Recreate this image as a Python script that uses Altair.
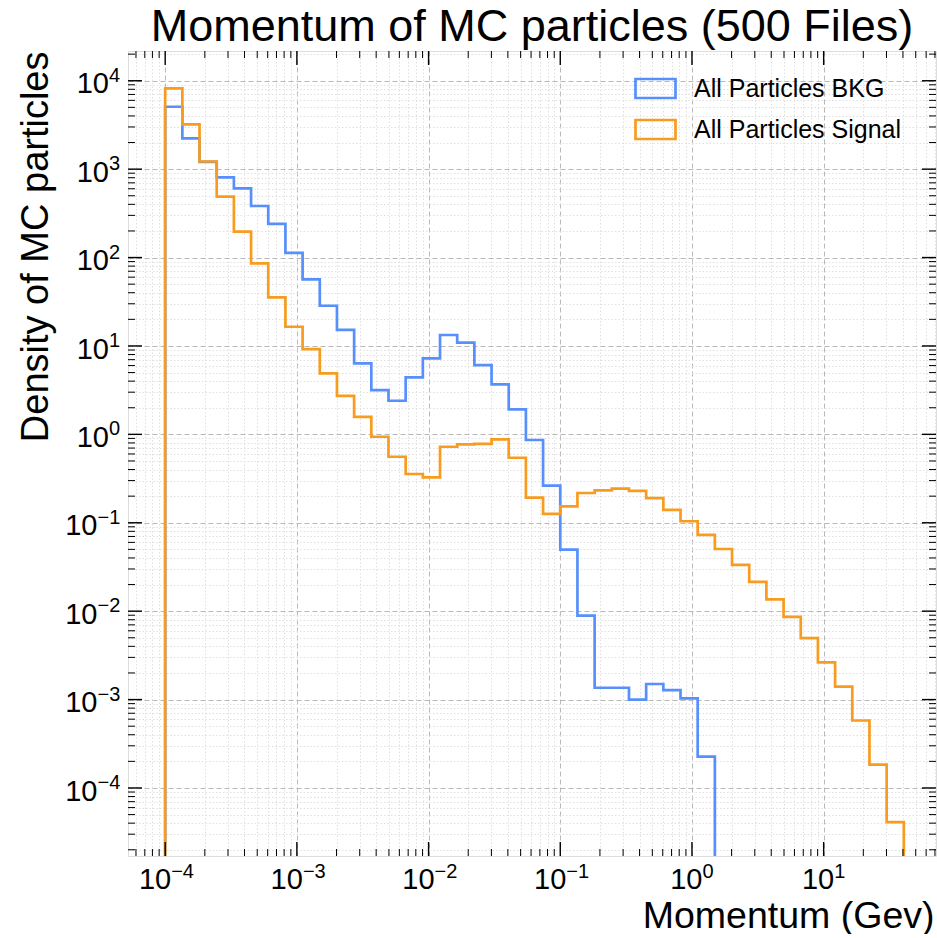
import altair as alt
import pandas as pd

# ---------------- data ----------------
EDGES = [1.0e-4, 1.3503e-4, 1.8233e-4, 2.4621e-4, 3.3246e-4, 4.4892e-4, 6.0619e-4, 8.1855e-4,
         1.10529e-3, 1.49250e-3, 2.01534e-3, 2.72134e-3, 3.67466e-3, 4.96195e-3, 6.70019e-3,
         9.04735e-3, 1.22168e-2, 1.64965e-2, 2.22754e-2, 3.00788e-2, 4.06159e-2, 5.48442e-2,
         7.40568e-2, 0.1, 0.135031, 0.182335, 0.246209, 0.332460, 0.448925, 0.606190, 0.818547,
         1.10529, 1.49250, 2.01534, 2.72134, 3.67466, 4.96195, 6.70019, 9.04735, 12.2168,
         16.4965, 22.2754, 30.0788, 40.6159]

BKG = [5080, 2230, 1210, 807, 607, 383, 240, 113, 56.6, 28.5, 15.2, 6.35, 3.17, 2.40, 4.40,
       7.24, 13.3, 10.9, 6.08, 3.68, 1.92, 0.863, 0.263, 0.0496, 0.0089, 0.00136, 0.00136,
       0.00100, 0.00150, 0.00128, 0.00103, 0.000226]

SIGNAL = [8200, 3210, 1220, 488, 196, 86, 35.5, 16.5, 9.2, 4.90, 2.73, 1.58, 0.94, 0.558,
          0.356, 0.326, 0.724, 0.771, 0.78, 0.877, 0.544, 0.192, 0.126, 0.153, 0.217, 0.233,
          0.243, 0.229, 0.190, 0.140, 0.104, 0.0728, 0.0505, 0.0334, 0.0214, 0.0136, 0.0086,
          0.00496, 0.00264, 0.0014, 0.00058, 0.000184, 0.000041]

SERIES = ["All Particles BKG", "All Particles Signal"]
COLORS = ["#5790fc", "#f89c20"]

X_MAJOR = [1e-4, 1e-3, 1e-2, 1e-1, 1e0, 1e1]
X_EXP = ["\u22124", "\u22123", "\u22122", "\u22121", "0", "1"]
Y_MAJOR = [1e-4, 1e-3, 1e-2, 1e-1, 1e0, 1e1, 1e2, 1e3, 1e4]
Y_EXP = ["\u22124", "\u22123", "\u22122", "\u22121", "0", "1", "2", "3", "4"]

X_DOMAIN = [5.22e-5, 71.3]
Y_DOMAIN = [1.70e-5, 2.17e4]
FLOOR = 1e-8  # zero level of the histogram (below the visible range)

TITLE = "Momentum of MC particles (500 Files)"
X_TITLE = "Momentum (Gev)"
Y_TITLE = "Density of MC particles"

# ---------------- layout ----------------
W, H = 808, 805
FONT = "Liberation Sans"
MAJ, MIN = 14, 7

# minor tick positions
x_minor = [m * 10.0 ** k for k in range(-5, 2) for m in range(2, 10)
           if X_DOMAIN[0] <= m * 10.0 ** k <= X_DOMAIN[1]]
y_minor = [m * 10.0 ** k for k in range(-5, 5) for m in range(2, 10)
           if Y_DOMAIN[0] <= m * 10.0 ** k <= Y_DOMAIN[1]]

xt = pd.DataFrame({"v": X_MAJOR + x_minor, "major": [True] * len(X_MAJOR) + [False] * len(x_minor)})
yt = pd.DataFrame({"v": Y_MAJOR + y_minor, "major": [True] * len(Y_MAJOR) + [False] * len(y_minor)})
xl = pd.DataFrame({"v": X_MAJOR, "e": X_EXP})
yl = pd.DataFrame({"v": Y_MAJOR, "e": Y_EXP})

rows = []
for name, vals in zip(SERIES, [BKG, SIGNAL]):
    n = len(vals)
    pts = [(EDGES[0], FLOOR)] + [(EDGES[k], v) for k, v in enumerate(vals)] + \
          [(EDGES[n], vals[-1]), (EDGES[n], FLOOR)]
    for i, (x, y) in enumerate(pts):
        rows.append({"series": name, "x": x, "y": y, "i": i})
hist_df = pd.DataFrame(rows)

TEST = "abs(log(datum.value)/LN10 - round(log(datum.value)/LN10)) < 0.01"

xs = alt.Scale(type="log", domain=X_DOMAIN, nice=False)
ys = alt.Scale(type="log", domain=Y_DOMAIN, nice=False)

common_axis = dict(
    grid=True,
    gridColor={"condition": {"test": TEST, "value": "#b8b8b8"}, "value": "#e0e0e0"},
    gridDash={"condition": {"test": TEST, "value": [5, 3]}, "value": [1.5, 2]},
    gridWidth=1,
    ticks=False, labels=False, domain=False,
    titleFont=FONT, titleFontWeight="normal", titleColor="black",
    titleBaseline="alphabetic", titleAlign="right",
)
xaxis = alt.Axis(values=X_MAJOR + x_minor, title=X_TITLE, titleX=W - 2, titleY=71,
                 titleFontSize=37.5, **common_axis)
yaxis = alt.Axis(values=Y_MAJOR + y_minor, title=Y_TITLE, titleX=-81, titleY=0, titleAngle=270,
                 titleFontSize=38, **common_axis)


def X(f):
    return alt.X(f, type="quantitative", scale=xs, axis=xaxis)


def Y(f):
    return alt.Y(f, type="quantitative", scale=ys, axis=yaxis)


legend = alt.Legend(
    title=None, orient="none", legendX=506, legendY=16, padding=0,
    symbolType="M-1,-0.475H1V0.475H-1Z", symbolSize=1600, symbolStrokeWidth=2.7,
    symbolFillColor="transparent", labelLimit=400,
    labelFont=FONT, labelFontSize=25, labelColor="black", labelOffset=17, rowPadding=4,
)

hist = alt.Chart(hist_df).mark_line(interpolate="step-after", strokeWidth=2.7, clip=True).encode(
    x=X("x"), y=Y("y"),
    color=alt.Color("series:N", scale=alt.Scale(domain=SERIES, range=COLORS), legend=legend),
    order=alt.Order("i:Q"),
)

xbase = alt.Chart(xt)
ybase = alt.Chart(yt)
tick_layers = []
for flt, ln, sw in [("datum.major", MAJ, 1.4), ("!datum.major", MIN, 1.0)]:
    tick_layers.append(xbase.transform_filter(flt).mark_rule(color="black", strokeWidth=sw).encode(
        x=X("v"), y=alt.value(H), y2=alt.value(H - ln)))
    tick_layers.append(xbase.transform_filter(flt).mark_rule(color="black", strokeWidth=sw).encode(
        x=X("v"), y=alt.value(0), y2=alt.value(ln)))
    tick_layers.append(ybase.transform_filter(flt).mark_rule(color="black", strokeWidth=sw).encode(
        y=Y("v"), x=alt.value(0), x2=alt.value(ln)))
    tick_layers.append(ybase.transform_filter(flt).mark_rule(color="black", strokeWidth=sw).encode(
        y=Y("v"), x=alt.value(W), x2=alt.value(W - ln)))

BASE_FS, EXP_FS = 29, 20
label_layers = []
xlb = alt.Chart(xl)
ylb = alt.Chart(yl)
for flt, dx in [("datum.v < 1", 6), ("datum.v >= 1", 10.5)]:
    label_layers.append(xlb.transform_filter(flt).mark_text(
        text="10", align="right", baseline="alphabetic", font=FONT, fontSize=BASE_FS,
        color="black", dx=dx).encode(x=X("v"), y=alt.value(H + 33)))
    label_layers.append(xlb.transform_filter(flt).mark_text(
        align="left", baseline="alphabetic", font=FONT, fontSize=EXP_FS,
        color="black", dx=dx).encode(x=X("v"), y=alt.value(H + 22), text="e:N"))
for flt, bx in [("datum.v < 1", -30.5), ("datum.v >= 1", -19)]:
    label_layers.append(ylb.transform_filter(flt).mark_text(
        text="10", align="right", baseline="alphabetic", font=FONT, fontSize=BASE_FS,
        color="black", dy=12.6).encode(y=Y("v"), x=alt.value(bx)))
    label_layers.append(ylb.transform_filter(flt).mark_text(
        align="left", baseline="alphabetic", font=FONT, fontSize=EXP_FS,
        color="black", dy=1).encode(y=Y("v"), x=alt.value(bx), text="e:N"))

chart = alt.layer(hist, *tick_layers, *label_layers).properties(
    width=W, height=H,
    title=alt.Title(TITLE, font=FONT, fontSize=45, fontWeight="normal", color="black",
                    anchor="middle", baseline="alphabetic", offset=9, dy=45),
    autosize=alt.AutoSizeParams(type="none"),
    padding={"left": 128, "top": 51, "right": 1, "bottom": 78},
).configure_view(stroke="black", strokeWidth=3).configure(background="white")

chart.save("out.html", embed_options={"renderer": "svg", "actions": False})
